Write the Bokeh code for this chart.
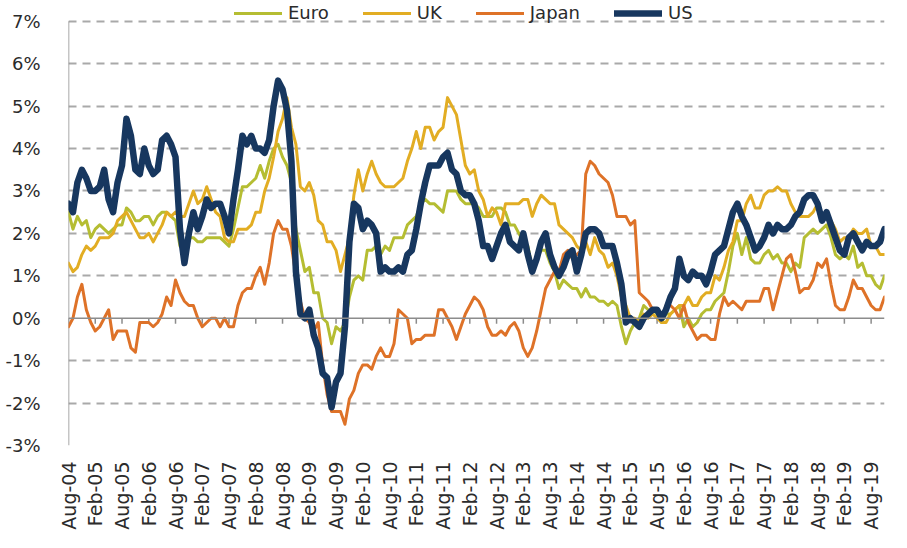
import math
from bokeh.plotting import figure
from bokeh.models import FixedTicker, PrintfTickFormatter, Span, Legend, LegendItem, ColumnDataSource
from bokeh.embed import file_html
from bokeh.resources import INLINE

# ---- data (monthly, Aug-04 .. Nov-19, % y/y) ----
month_names = ["Jan", "Feb", "Mar", "Apr", "May", "Jun", "Jul", "Aug", "Sep", "Oct", "Nov", "Dec"]
months = []
for yr in range(2004, 2020):
    for m in range(12):
        if (yr == 2004 and m < 7) or (yr == 2019 and m > 10):
            continue
        months.append(f"{month_names[m]}-{yr % 100:02d}")

euro = [2.5, 2.1, 2.4, 2.2, 2.3,
        1.9, 2.1, 2.2, 2.1, 2.0, 2.1, 2.2, 2.2, 2.6, 2.5, 2.3, 2.3,
        2.4, 2.4, 2.2, 2.4, 2.5, 2.5, 2.4, 2.3, 1.7, 1.6, 1.9, 1.9,
        1.8, 1.8, 1.9, 1.9, 1.9, 1.9, 1.8, 1.7, 2.1, 2.6, 3.1, 3.1,
        3.2, 3.3, 3.6, 3.3, 3.7, 4.0, 4.1, 3.8, 3.6, 3.2, 2.1, 1.6,
        1.1, 1.2, 0.6, 0.6, 0.0, -0.1, -0.6, -0.2, -0.3, -0.1, 0.5, 0.9,
        1.0, 0.9, 1.6, 1.6, 1.7, 1.5, 1.7, 1.6, 1.9, 1.9, 1.9, 2.2,
        2.3, 2.4, 2.7, 2.8, 2.7, 2.7, 2.6, 2.5, 3.0, 3.0, 3.0, 2.8,
        2.7, 2.7, 2.7, 2.6, 2.4, 2.4, 2.4, 2.6, 2.6, 2.5, 2.2, 2.2,
        2.0, 1.8, 1.7, 1.2, 1.4, 1.6, 1.6, 1.3, 1.1, 0.7, 0.9, 0.8,
        0.7, 0.7, 0.5, 0.7, 0.5, 0.5, 0.4, 0.4, 0.3, 0.4, 0.3, -0.2,
        -0.6, -0.3, -0.1, 0.0, 0.3, 0.2, 0.2, 0.1, -0.1, 0.1, 0.1, 0.2,
        0.3, -0.2, 0.0, -0.2, -0.1, 0.1, 0.2, 0.2, 0.4, 0.5, 0.6, 1.1,
        1.7, 2.0, 1.5, 1.9, 1.4, 1.3, 1.3, 1.5, 1.6, 1.4, 1.5, 1.3,
        1.3, 1.1, 1.3, 1.2, 1.9, 2.0, 2.1, 2.0, 2.1, 2.2, 1.9, 1.5,
        1.4, 1.5, 1.4, 1.7, 1.2, 1.3, 1.0, 1.0, 0.8, 0.7, 1.0]

uk = [1.3, 1.1, 1.2, 1.5, 1.7,
      1.6, 1.7, 1.9, 1.9, 1.9, 2.0, 2.3, 2.4, 2.5, 2.3, 2.1, 1.9,
      1.9, 2.0, 1.8, 2.0, 2.2, 2.5, 2.4, 2.5, 2.4, 2.4, 2.7, 3.0,
      2.7, 2.8, 3.1, 2.8, 2.5, 2.4, 1.9, 1.8, 1.8, 2.1, 2.1, 2.1,
      2.2, 2.5, 2.5, 3.0, 3.3, 3.8, 4.4, 4.7, 5.2, 4.5, 4.1, 3.1,
      3.0, 3.2, 2.9, 2.3, 2.2, 1.8, 1.8, 1.6, 1.1, 1.5, 1.9, 2.9,
      3.5, 3.0, 3.4, 3.7, 3.4, 3.2, 3.1, 3.1, 3.1, 3.2, 3.3, 3.7,
      4.0, 4.4, 4.0, 4.5, 4.5, 4.2, 4.4, 4.5, 5.2, 5.0, 4.8, 4.2,
      3.6, 3.4, 3.5, 3.0, 2.8, 2.4, 2.6, 2.5, 2.2, 2.7, 2.7, 2.7,
      2.7, 2.8, 2.8, 2.4, 2.7, 2.9, 2.8, 2.7, 2.7, 2.2, 2.1, 2.0,
      1.9, 1.7, 1.6, 1.8, 1.5, 1.9, 1.6, 1.5, 1.2, 1.3, 1.0, 0.5,
      0.3, 0.0, 0.0, -0.1, 0.1, 0.0, 0.1, 0.0, -0.1, -0.1, 0.1, 0.2,
      0.3, 0.3, 0.5, 0.3, 0.3, 0.5, 0.6, 0.6, 1.0, 0.9, 1.2, 1.6,
      1.8, 2.3, 2.3, 2.7, 2.9, 2.6, 2.6, 2.9, 3.0, 3.0, 3.1, 3.0,
      3.0, 2.7, 2.5, 2.4, 2.4, 2.4, 2.5, 2.7, 2.4, 2.4, 2.3, 2.1,
      1.8, 1.9, 1.9, 2.1, 2.0, 2.0, 2.1, 1.7, 1.7, 1.5, 1.5]

japan = [-0.2, 0.0, 0.5, 0.8, 0.2,
         -0.1, -0.3, -0.2, 0.0, 0.2, -0.5, -0.3, -0.3, -0.3, -0.7, -0.8, -0.1,
         -0.1, -0.1, -0.2, -0.1, 0.1, 0.5, 0.3, 0.9, 0.6, 0.4, 0.3, 0.3,
         0.0, -0.2, -0.1, 0.0, 0.0, -0.2, 0.0, -0.2, -0.2, 0.3, 0.6, 0.7,
         0.7, 1.0, 1.2, 0.8, 1.3, 2.0, 2.3, 2.1, 2.1, 1.7, 1.0, 0.4,
         0.0, -0.1, -0.3, -0.1, -1.1, -1.8, -2.2, -2.2, -2.2, -2.5, -1.9, -1.7,
         -1.3, -1.1, -1.1, -1.2, -0.9, -0.7, -0.9, -0.9, -0.6, 0.2, 0.1, 0.0,
         -0.6, -0.5, -0.5, -0.4, -0.4, -0.4, 0.2, 0.2, 0.0, -0.2, -0.5, -0.2,
         0.1, 0.3, 0.5, 0.4, 0.2, -0.2, -0.4, -0.4, -0.3, -0.4, -0.2, -0.1,
         -0.3, -0.7, -0.9, -0.7, -0.3, 0.2, 0.7, 0.9, 1.1, 1.1, 1.5, 1.6,
         1.4, 1.5, 1.6, 3.4, 3.7, 3.6, 3.4, 3.3, 3.2, 2.9, 2.4, 2.4,
         2.4, 2.2, 2.3, 0.6, 0.5, 0.4, 0.2, 0.2, 0.0, 0.3, 0.3, 0.2,
         0.0, 0.3, -0.1, -0.3, -0.5, -0.4, -0.4, -0.5, -0.5, 0.1, 0.5, 0.3,
         0.4, 0.3, 0.2, 0.4, 0.4, 0.4, 0.4, 0.7, 0.7, 0.2, 0.6, 1.0,
         1.4, 1.5, 1.1, 0.6, 0.7, 0.7, 0.9, 1.3, 1.2, 1.4, 0.8, 0.3,
         0.2, 0.2, 0.5, 0.9, 0.7, 0.7, 0.5, 0.3, 0.2, 0.2, 0.5]

us = [2.7, 2.5, 3.2, 3.5, 3.3,
      3.0, 3.0, 3.1, 3.5, 2.8, 2.5, 3.2, 3.6, 4.7, 4.3, 3.5, 3.4,
      4.0, 3.6, 3.4, 3.5, 4.2, 4.3, 4.1, 3.8, 2.1, 1.3, 2.0, 2.5,
      2.1, 2.4, 2.8, 2.6, 2.7, 2.7, 2.4, 2.0, 2.8, 3.5, 4.3, 4.1,
      4.3, 4.0, 4.0, 3.9, 4.2, 5.0, 5.6, 5.4, 4.9, 3.7, 1.1, 0.1,
      0.0, 0.2, -0.4, -0.7, -1.3, -1.4, -2.1, -1.5, -1.3, -0.2, 1.8, 2.7,
      2.6, 2.1, 2.3, 2.2, 2.0, 1.1, 1.2, 1.1, 1.1, 1.2, 1.1, 1.5,
      1.6, 2.1, 2.7, 3.2, 3.6, 3.6, 3.6, 3.8, 3.9, 3.5, 3.4, 3.0,
      2.9, 2.9, 2.7, 2.3, 1.7, 1.7, 1.4, 1.7, 2.0, 2.2, 1.8, 1.7,
      1.6, 2.0, 1.5, 1.1, 1.4, 1.8, 2.0, 1.5, 1.2, 1.0, 1.2, 1.5,
      1.6, 1.1, 1.5, 2.0, 2.1, 2.1, 2.0, 1.7, 1.7, 1.7, 1.3, 0.8,
      -0.1, 0.0, -0.1, -0.2, 0.0, 0.1, 0.2, 0.2, 0.0, 0.2, 0.5, 0.7,
      1.4, 1.0, 0.9, 1.1, 1.0, 1.0, 0.8, 1.1, 1.5, 1.6, 1.7, 2.1,
      2.5, 2.7, 2.4, 2.2, 1.9, 1.6, 1.7, 1.9, 2.2, 2.0, 2.2, 2.1,
      2.1, 2.2, 2.4, 2.5, 2.8, 2.9, 2.9, 2.7, 2.3, 2.5, 2.2, 1.9,
      1.6, 1.5, 1.9, 2.0, 1.8, 1.6, 1.8, 1.7, 1.7, 1.8, 2.1]

y_ticks = [-3, -2, -1, 0, 1, 2, 3, 4, 5, 6, 7]
label_step = 6

series_names = ["Euro", "UK", "Japan", "US"]
series_colors = ["#b5bd32", "#e2ad23", "#de7228", "#17375f"]
series_widths = [3, 3, 3, 6.5]

FONT = "DejaVu Sans"
TXT = "#2b2b2b"
GRID = "#a9a9a9"
AXIS = "#8c8c8c"

n = len(months)
x = list(range(n))

# frame: page y 8 (top) .. 458 (bottom, = -3%); 7% sits at page y 29
px_per_unit = 42.9
y_top = y_ticks[-1] + 21 / px_per_unit

p = figure(width=890, height=532, output_backend="svg", toolbar_location=None,
           x_range=(0, n - 1), y_range=(y_ticks[0], y_top),
           min_border_left=68, min_border_right=6, min_border_top=0, min_border_bottom=82)
p.outline_line_color = None
p.background_fill_color = "white"
p.border_fill_color = "white"

# axes
p.xaxis.ticker = FixedTicker(ticks=list(range(0, n, label_step)))
p.xaxis.major_label_overrides = {i: months[i] for i in range(0, n, label_step)}
p.xaxis.major_label_orientation = math.pi / 2
p.xaxis.axis_line_color = None
p.xaxis.major_tick_line_color = None
p.xaxis.minor_tick_line_color = None
p.xaxis.major_label_standoff = 10
p.xaxis.major_label_text_font = FONT
p.xaxis.major_label_text_font_size = "19px"
p.xaxis.major_label_text_color = TXT

p.yaxis.ticker = FixedTicker(ticks=y_ticks)
p.yaxis.formatter = PrintfTickFormatter(format="%d%%")
p.yaxis.axis_line_color = None
p.yaxis.major_tick_line_color = None
p.yaxis.minor_tick_line_color = None
p.yaxis.major_label_standoff = 22
p.yaxis.major_label_text_font = FONT
p.yaxis.major_label_text_font_size = "18px"
p.yaxis.major_label_text_color = TXT

p.xgrid.grid_line_color = None
p.ygrid.ticker = FixedTicker(ticks=[t for t in y_ticks if t != 0])
p.ygrid.grid_line_color = GRID
p.ygrid.grid_line_width = 2
p.ygrid.grid_line_dash = "8 6"

# vertical axis line from -3% to 7%
p.segment(x0=[0], y0=[y_ticks[0]], x1=[0], y1=[y_ticks[-1]], line_color=AXIS, line_width=1.5)

# zero line with tick marks
p.add_layout(Span(location=0, dimension="width", line_color=AXIS, line_width=1.5))
tick_x = list(range(0, n, label_step))
p.segment(x0=tick_x, y0=[0] * len(tick_x), x1=tick_x, y1=[-0.13] * len(tick_x),
          line_color=AXIS, line_width=1.5)

items = []
for name, vals, col, w in zip(series_names, [euro, uk, japan, us], series_colors, series_widths):
    src = ColumnDataSource(dict(x=x, y=vals))
    r = p.line("x", "y", source=src, line_color=col, line_width=w,
               line_join="round", line_cap="round")
    items.append(LegendItem(label=name, renderers=[r]))

legend = Legend(items=items, orientation="horizontal", location=(166, 422),
                label_text_font=FONT, label_text_font_size="18px", label_text_color=TXT,
                glyph_width=48, glyph_height=14, label_standoff=6, spacing=34,
                padding=0, margin=0, border_line_color=None, background_fill_alpha=0,
                label_height=18)
p.add_layout(legend)

open("out.html", "w").write(file_html(p, INLINE))
